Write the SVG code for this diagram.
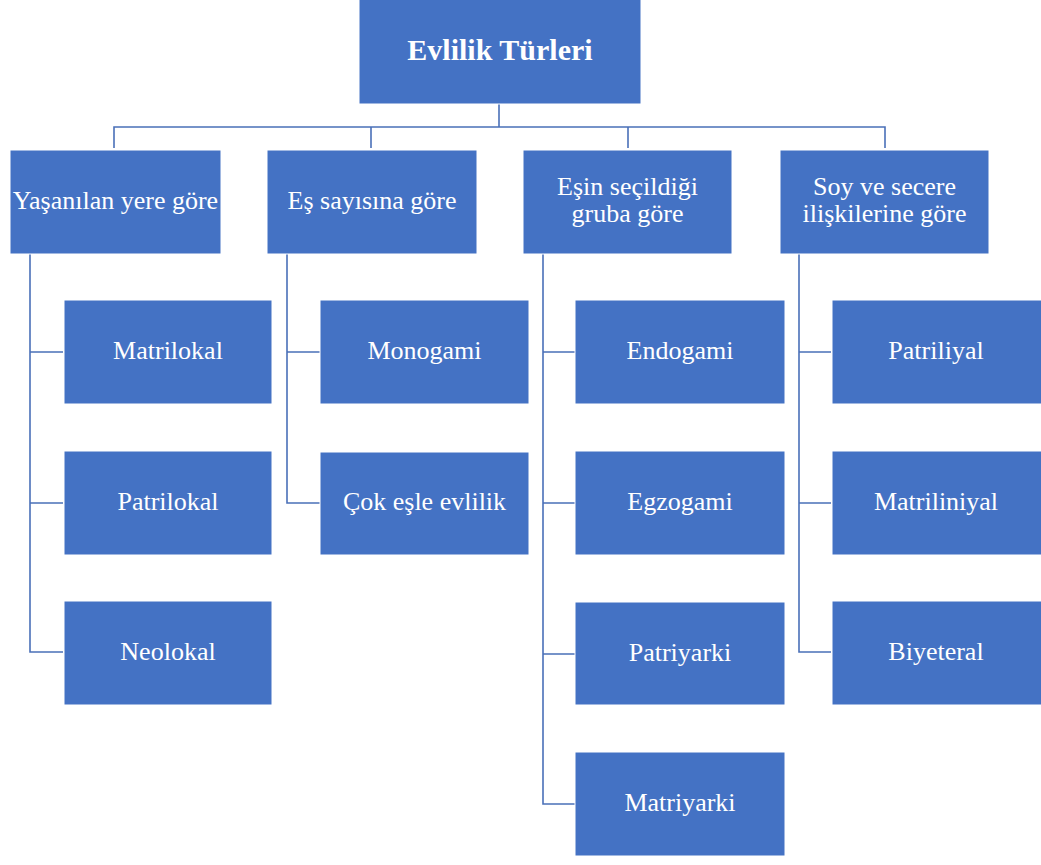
<svg xmlns="http://www.w3.org/2000/svg" width="1041" height="865" viewBox="0 0 1041 865">
<style>
.b{fill:#4472C4;stroke:#ffffff;stroke-width:1}
.t{font-family:"Liberation Serif","Times New Roman",serif;font-size:26px;fill:#ffffff;text-anchor:middle}
.h{font-weight:bold;font-size:30px}
.c{fill:none;stroke:#4a70b8;stroke-width:1.6}
</style>
<rect width="1041" height="865" fill="#ffffff"/>
<g id="connectors">
<path class="c" d="M499,104 V127" stroke-width="2.5"/>
<path class="c" d="M114,148 V127 H885 V148 M371,127 V148 M628,127 V148"/>
<path class="c" d="M30,254 V652 H63 M30,352 H63 M30,503 H63"/>
<path class="c" d="M287,254 V503 H320 M287,352 H320"/>
<path class="c" d="M543,254 V804 H575 M543,352 H575 M543,503 H575 M543,654 H575"/>
<path class="c" d="M799,254 V652 H831 M799,352 H831 M799,503 H831"/>
</g>
<g id="root"><rect class="b" x="359" y="-2" width="282" height="106"/><text class="t h" x="500" y="60">Evlilik Türleri</text></g>
<g id="yasanilan"><rect class="b" x="10" y="150" width="211" height="104"/><text class="t" x="115.5" y="209">Yaşanılan yere göre</text></g>
<g id="es-sayisi"><rect class="b" x="267" y="150" width="210" height="104"/><text class="t" x="372" y="209">Eş sayısına göre</text></g>
<g id="esin-secildigi"><rect class="b" x="523" y="150" width="209" height="104"/><text class="t" x="627.5" y="194.5">Eşin seçildiği</text><text class="t" x="627.5" y="222">gruba göre</text></g>
<g id="soy-secere"><rect class="b" x="780" y="150" width="209" height="104"/><text class="t" x="884.5" y="194.5">Soy ve secere</text><text class="t" x="884.5" y="222">ilişkilerine göre</text></g>
<g id="matrilokal"><rect class="b" x="64" y="300" width="208" height="104"/><text class="t" x="168" y="359">Matrilokal</text></g>
<g id="patrilokal"><rect class="b" x="64" y="451" width="208" height="104"/><text class="t" x="168" y="510">Patrilokal</text></g>
<g id="neolokal"><rect class="b" x="64" y="601" width="208" height="104"/><text class="t" x="168" y="660">Neolokal</text></g>
<g id="monogami"><rect class="b" x="320" y="300" width="209" height="104"/><text class="t" x="424.5" y="359">Monogami</text></g>
<g id="cok-esle"><rect class="b" x="320" y="452" width="209" height="103"/><text class="t" x="424.5" y="510">Çok eşle evlilik</text></g>
<g id="endogami"><rect class="b" x="575" y="300" width="210" height="104"/><text class="t" x="680" y="359">Endogami</text></g>
<g id="egzogami"><rect class="b" x="575" y="451" width="210" height="104"/><text class="t" x="680" y="510">Egzogami</text></g>
<g id="patriyarki"><rect class="b" x="575" y="602" width="210" height="103"/><text class="t" x="680" y="661">Patriyarki</text></g>
<g id="matriyarki"><rect class="b" x="575" y="752" width="210" height="104"/><text class="t" x="680" y="811">Matriyarki</text></g>
<g id="patriliyal"><rect class="b" x="832" y="300" width="210" height="104"/><text class="t" x="936" y="359">Patriliyal</text></g>
<g id="matriliniyal"><rect class="b" x="832" y="451" width="210" height="104"/><text class="t" x="936" y="510">Matriliniyal</text></g>
<g id="biyeteral"><rect class="b" x="832" y="601" width="210" height="104"/><text class="t" x="936" y="660">Biyeteral</text></g>
</svg>
